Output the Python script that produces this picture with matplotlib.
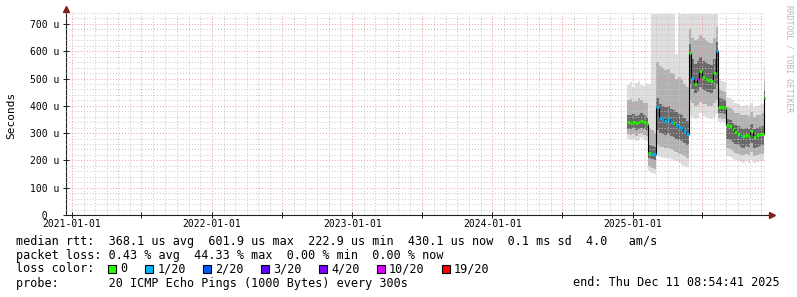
import datetime as dt
import matplotlib
matplotlib.use("Agg")
import matplotlib.pyplot as plt
import matplotlib.dates as mdates
from matplotlib.patches import Rectangle

plt.rcParams["font.family"] = ["DejaVu Sans Mono"]

W, H = 797, 297

# weekly steps, last step ends at graph end time
step_start = dt.datetime(2024, 12, 16)
n_steps = 52
end_time = dt.datetime(2025, 12, 11, 8, 54, 41)

# median rtt per step (us)
median = [340, 338, 341, 336, 339, 343, 340, 333,
          228, 225, 223,
          395, 355, 350, 346, 350, 340, 336, 330, 322, 318, 308, 298,
          592, 502, 480, 500, 528, 505, 500, 494, 490, 522, 602,
          397, 394, 392,
          328, 325, 314, 303, 298, 291, 288, 293, 289, 306, 287, 292, 296, 297, 430]
# lost pings out of 20 per step
loss = [0, 0, 0, 0, 0, 0, 0, 0,
        0, 1, 1,
        1, 1, 1, 1, 1, 1, 0, 1, 1, 1, 1, 1,
        0, 1, 0, 10, 0, 0, 0, 0, 0, 0, 1,
        0, 0, 0,
        0, 0, 0, 0, 0, 1, 0, 0, 0, 0, 0, 0, 0, 0, 0]
# smoke: min/max, outer and inner ping spread (us)
smoke_max = [478, 486, 470, 482, 490, 476, 472, 480,
             480, 735, 735,
             735, 735, 735, 735, 735, 735, 735, 590, 735, 735, 735, 735,
             735, 735, 735, 735, 735, 735, 735, 735, 735, 735, 735,
             500, 492, 488,
             432, 430, 420, 410, 405, 400, 398, 402, 396, 410, 395, 400, 402, 405, 545]
smoke_hi2 = [420, 425, 415, 418, 428, 420, 412, 410,
             320, 310, 300,
             560, 545, 540, 530, 535, 520, 515, 500, 505, 495, 480, 470,
             680, 650, 640, 645, 660, 650, 640, 635, 630, 650, 690,
             462, 455, 450,
             395, 392, 385, 375, 372, 368, 365, 368, 362, 378, 360, 365, 368, 372, 490]
smoke_hi1 = [368, 366, 370, 364, 368, 372, 366, 360,
             258, 252, 248,
             430, 405, 400, 395, 398, 388, 384, 376, 370, 365, 355, 345,
             625, 570, 555, 565, 580, 565, 560, 555, 550, 570, 635,
             428, 424, 420,
             350, 347, 338, 328, 325, 318, 315, 320, 316, 332, 314, 318, 322, 325, 455]
smoke_lo1 = [316, 314, 318, 312, 314, 320, 316, 310,
             208, 204, 202,
             310, 300, 298, 294, 298, 290, 286, 280, 275, 270, 262, 256,
             480, 462, 448, 455, 470, 458, 455, 450, 446, 462, 480,
             374, 372, 370,
             278, 276, 268, 260, 256, 250, 247, 252, 248, 262, 246, 250, 254, 256, 385]
smoke_lo2 = [296, 292, 298, 290, 295, 300, 294, 288,
             178, 172, 170,
             258, 250, 248, 245, 246, 240, 236, 230, 225, 222, 215, 210,
             420, 410, 400, 402, 415, 408, 405, 400, 398, 410, 420,
             356, 352, 350,
             245, 242, 235, 228, 225, 220, 218, 222, 218, 230, 215, 220, 222, 225, 330]
smoke_min = [278, 275, 280, 272, 276, 282, 276, 270,
             160, 155, 152,
             215, 212, 210, 208, 210, 205, 200, 196, 190, 185, 180, 176,
             365, 360, 352, 355, 372, 362, 358, 355, 350, 360, 370,
             342, 340, 338,
             215, 212, 206, 200, 198, 195, 192, 196, 192, 202, 190, 194, 196, 198, 292]

loss_labels = ["0", "1/20", "2/20", "3/20", "4/20", "10/20", "19/20"]
loss_bins = [0, 1, 2, 3, 4, 10, 19]
loss_colors = ["#26ff00", "#00b8ff", "#0059ff", "#5e00ff", "#7e00ff", "#dd00ff", "#ff0000"]

y_ticks = [0, 100, 200, 300, 400, 500, 600, 700]

legend_lines = [
    "median rtt:  368.1 us avg  601.9 us max  222.9 us min  430.1 us now  0.1 ms sd  4.0   am/s",
    "packet loss: 0.43 % avg  44.33 % max  0.00 % min  0.00 % now",
]
probe_text = "probe:       20 ICMP Echo Pings (1000 Bytes) every 300s"
end_text = "end: Thu Dec 11 08:54:41 2025"


def loss_color(c):
    idx = 0
    for i, b in enumerate(loss_bins):
        if c >= b:
            idx = i
    return loss_colors[idx]


fig = plt.figure(figsize=(W / 100, H / 100), dpi=100, facecolor="white")
ax = fig.add_axes([66 / W, 1 - 215 / H, 700 / W, 202 / H])

edges = mdates.date2num([step_start + dt.timedelta(days=7 * i) for i in range(n_steps)] + [end_time])

# smoke
for lo, hi, col in [(smoke_min, smoke_max, "#dedede"),
                     (smoke_lo2, smoke_hi2, "#b2b2b2"),
                     (smoke_lo1, smoke_hi1, "#6a6a6a")]:
    ax.stairs(hi, edges, baseline=lo, fill=True, color=col, lw=0, zorder=1)

# median
ax.stairs(median, edges, baseline=None, color="black", lw=0.8, zorder=3)
ax.hlines(median, edges[:-1], edges[1:], colors=[loss_color(c) for c in loss], lw=2, zorder=4)

# axes limits
ax.set_xlim(mdates.date2num(dt.datetime(2020, 12, 16, 10)), mdates.date2num(dt.datetime(2025, 12, 13, 10)))
ax.set_ylim(0, 740)

# x ticks / grid
major_x = [dt.datetime(y, m, 1) for y in range(2021, 2026) for m in (1, 7)]
minor_x = [dt.datetime(y, m, 1) for y in range(2021, 2026) for m in range(1, 13)]
ax.set_xticks(mdates.date2num(major_x))
ax.set_xticklabels([d.strftime("%Y-%m-%d") if d.month == 1 else "" for d in major_x])
ax.set_xticks(mdates.date2num(minor_x), minor=True)

# y ticks / grid
ax.set_yticks(y_ticks)
ax.set_yticklabels([f"{v} u" if v else "  0" for v in y_ticks])
for lbl in ax.get_yticklabels():
    lbl.set_horizontalalignment("left")
ax.set_yticks(range(0, 741, 20), minor=True)

ax.tick_params(which="major", direction="inout", length=4, width=0.7, color="#1f1f1f", labelsize=7)
ax.tick_params(axis="y", which="major", pad=23.8)
ax.tick_params(axis="x", which="major", pad=1.2)
ax.tick_params(which="minor", length=0)

ax.set_axisbelow(False)
ax.grid(which="minor", color="#c6c6c6", ls=(0, (1, 2)), lw=0.7)
ax.grid(which="major", color="#eb9c9c", ls=(0, (1, 2)), lw=0.7)

for s in ("top", "right"):
    ax.spines[s].set_visible(False)
for s in ("left", "bottom"):
    ax.spines[s].set_color("#1f1f1f")
    ax.spines[s].set_linewidth(0.8)

# axis arrows
ax.plot([1.0, 1.004], [0, 0], transform=ax.transAxes, clip_on=False, color="#1f1f1f", lw=0.8)
ax.plot([1.008], [0], transform=ax.transAxes, clip_on=False, marker=">", ms=4, color="#7f1f1f")
ax.plot([0], [1.02], transform=ax.transAxes, clip_on=False, marker="^", ms=4, color="#7f1f1f")

# y label and watermark
fig.text(11 / W, 1 - 115 / H, "Seconds", rotation=90, fontsize=8, ha="center", va="center")
fig.text(788.5 / W, 1 - 59 / H, "RRDTOOL / TOBI OETIKER", rotation=270, fontsize=5.8,
         color="#b8b8b8", ha="center", va="center")

# legend
fig.text(16 / W, 1 - 241 / H, legend_lines[0], fontsize=8.5, ha="left", va="center")
fig.text(16 / W, 1 - 255 / H, legend_lines[1], fontsize=8.5, ha="left", va="center")
fig.text(16 / W, 1 - 269 / H, "loss color:", fontsize=8.5, ha="left", va="center")
bx = 108.3
for lab, col in zip(loss_labels, loss_colors):
    fig.patches.append(Rectangle((bx / W, 1 - 273 / H), 8 / W, 8 / H, transform=fig.transFigure,
                                 facecolor=col, edgecolor="black", lw=0.8))
    fig.text((bx + 12.3) / W, 1 - 269 / H, lab, fontsize=8.5, ha="left", va="center")
    bx += 12.3 + 7.1 * len(lab) + 17.2
fig.text(16 / W, 1 - 283 / H, probe_text, fontsize=8.5, ha="left", va="center")
fig.text(780 / W, 1 - 283 / H, end_text, fontsize=8.5, ha="right", va="center")

fig.savefig("out.png", dpi=100, facecolor="white")
